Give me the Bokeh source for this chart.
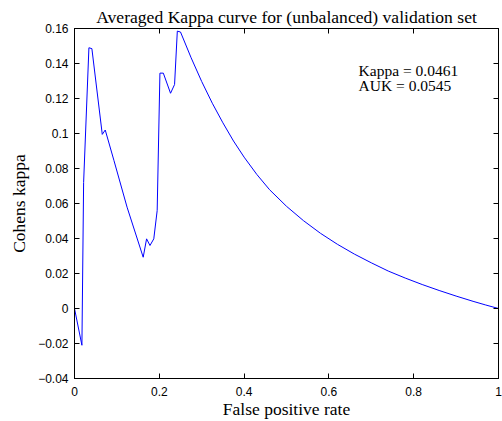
from bokeh.plotting import figure
from bokeh.models import Range1d, LinearAxis, FixedTicker, Label
from bokeh.embed import file_html
from bokeh.resources import INLINE

# ---- data ----
fpr = [0, 0.0175, 0.0215, 0.034, 0.041, 0.0655, 0.0725, 0.093, 0.124, 0.162,
       0.170, 0.178, 0.187, 0.195, 0.2015, 0.2095, 0.2265, 0.236, 0.2425, 0.25,
       0.275, 0.30, 0.325, 0.35, 0.375, 0.40, 0.43, 0.46, 0.50, 0.54,
       0.58, 0.62, 0.66, 0.70, 0.74, 0.78, 0.82, 0.86, 0.90, 0.94,
       0.97, 1.0]
kappa = [0, -0.021, 0.072, 0.149, 0.1485, 0.0995, 0.102, 0.0846, 0.0579, 0.0293,
         0.0398, 0.036, 0.0398, 0.056, 0.1345, 0.1345, 0.123, 0.128, 0.1585, 0.158,
         0.1433, 0.1297, 0.1173, 0.1061, 0.0957, 0.0865, 0.0766, 0.0679, 0.0584, 0.0502,
         0.0430, 0.0367, 0.0311, 0.0261, 0.0214, 0.0174, 0.0137, 0.0103, 0.0071, 0.0041,
         0.0020, 0.0]

x_ticks = [0, 0.2, 0.4, 0.6, 0.8, 1]
x_tick_labels = ["0", "0.2", "0.4", "0.6", "0.8", "1"]
y_ticks = [-0.04, -0.02, 0, 0.02, 0.04, 0.06, 0.08, 0.1, 0.12, 0.14, 0.16]
y_tick_labels = ["\u22120.04", "\u22120.02", "0", "0.02", "0.04", "0.06", "0.08",
                 "0.1", "0.12", "0.14", "0.16"]

title_text = "Averaged Kappa curve for (unbalanced) validation set"
x_label = "False positive rate"
y_label = "Cohens kappa"
annotation_lines = ["Kappa = 0.0461", "AUK = 0.0545"]
annotation_x = 0.67
annotation_y = [0.1362, 0.1276]

SERIF = "Liberation Serif"
SANS = "Liberation Sans"

p = figure(width=502, height=421, output_backend="svg", toolbar_location=None,
           x_range=Range1d(0, 1), y_range=Range1d(-0.04, 0.16),
           min_border_left=74, min_border_right=4, min_border_top=28,
           min_border_bottom=43, title=title_text)

p.title.text_font = SERIF
p.title.text_font_size = "17.6px"
p.title.text_font_style = "normal"
p.title.align = "center"
p.title.text_color = "black"
p.title.standoff = 3
p.title.text_line_height = 0.8

p.grid.visible = False
p.outline_line_color = "black"
p.outline_line_width = 1
p.background_fill_color = "white"
p.border_fill_color = "white"


def style_axis(ax, ticks, labels, show_labels):
    ax.ticker = FixedTicker(ticks=ticks)
    ax.major_tick_in = 5
    ax.major_tick_out = 0
    ax.minor_tick_line_color = None
    ax.axis_line_color = "black"
    ax.major_tick_line_color = "black"
    if show_labels:
        ax.major_label_overrides = {t: l for t, l in zip(ticks, labels)}
        ax.major_label_text_font = SANS
        ax.major_label_text_font_size = "12px"
        ax.major_label_text_color = "black"
    else:
        ax.major_label_text_font_size = "1px"
        ax.major_label_text_color = None
        ax.major_label_text_alpha = 0
        ax.major_label_standoff = 0


style_axis(p.xaxis[0], x_ticks, x_tick_labels, True)
style_axis(p.yaxis[0], y_ticks, y_tick_labels, True)
p.xaxis[0].major_label_standoff = 8
p.yaxis[0].major_label_standoff = 6

p.xaxis[0].axis_label = x_label
p.yaxis[0].axis_label = y_label
for ax in (p.xaxis[0], p.yaxis[0]):
    ax.axis_label_text_font = SERIF
    ax.axis_label_text_font_size = "17.5px"
    ax.axis_label_text_font_style = "normal"
    ax.axis_label_text_color = "black"
p.xaxis[0].axis_label_standoff = 0
p.yaxis[0].axis_label_standoff = 6

right_ax = LinearAxis()
style_axis(right_ax, y_ticks, y_tick_labels, False)
p.add_layout(right_ax, "right")
top_ax = LinearAxis()
style_axis(top_ax, x_ticks, x_tick_labels, False)
p.add_layout(top_ax, "above")

p.line(fpr, kappa, line_color="#0000ff", line_width=1)

for txt, yy in zip(annotation_lines, annotation_y):
    p.add_layout(Label(x=annotation_x, y=yy, text=txt, text_font=SERIF,
                       text_font_size="15.5px", text_baseline="middle",
                       text_align="left", text_color="black"))

open("out.html", "w").write(file_html(p, INLINE))
